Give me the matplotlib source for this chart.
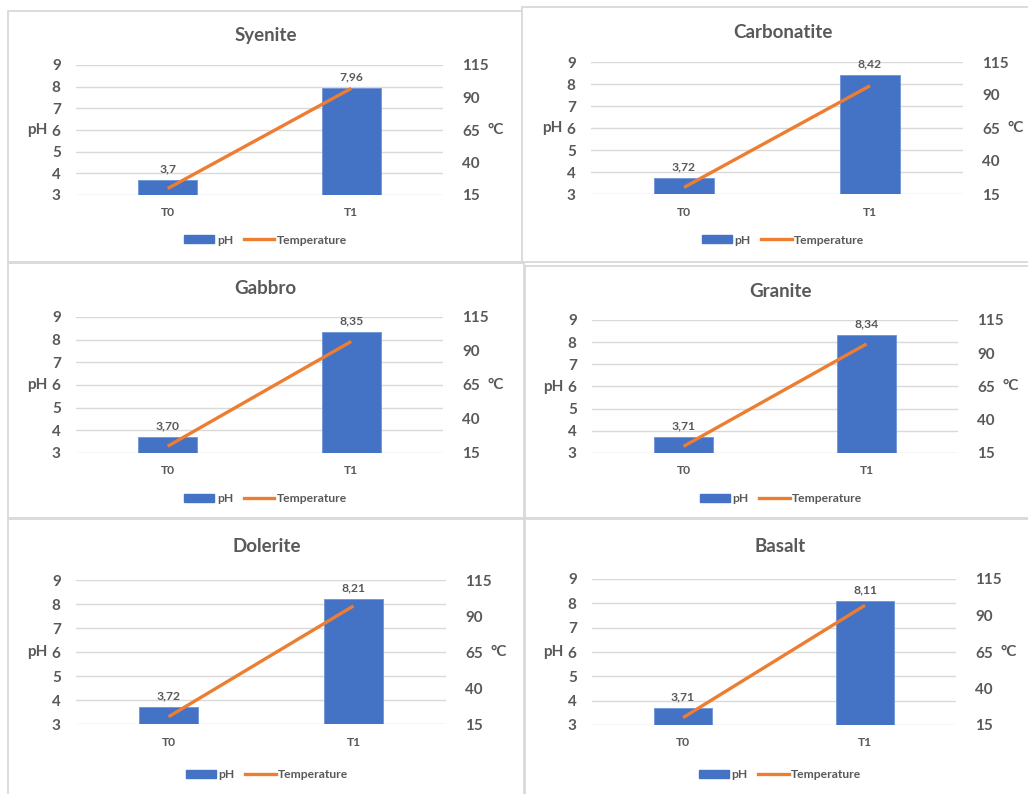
import matplotlib
matplotlib.use("Agg")
import matplotlib.pyplot as plt
from matplotlib.patches import Rectangle, Patch
from matplotlib.lines import Line2D

plt.rcParams["font.family"] = ["Lato", "DejaVu Sans"]

# ---- data ----
rocks = ["Syenite", "Carbonatite", "Gabbro", "Granite", "Dolerite", "Basalt"]
stages = ["T0", "T1"]
ph_t0 = ["3,7", "3,72", "3,70", "3,71", "3,72", "3,71"]
ph_t1 = ["7,96", "8,42", "8,35", "8,34", "8,21", "8,11"]
temperature = [20, 97]
ph_ticks = [3, 4, 5, 6, 7, 8, 9]
temp_ticks = [15, 40, 65, 90, 115]

# ---- layout (pixels): panel box, plot area (left, right, top, bottom), title y, legend y ----
W, H = 1028, 794
panels = [
    dict(box=(8, 11, 522, 262), grid=(76, 443, 65, 195), title_y=35, legend_y=240),
    dict(box=(522, 7, 1030, 262), grid=(591, 963, 62, 194), title_y=32, legend_y=240),
    dict(box=(8, 263, 524, 518), grid=(76, 443, 317, 453), title_y=288, legend_y=499),
    dict(box=(525, 266, 1030, 518), grid=(592, 958, 320, 453), title_y=291, legend_y=499),
    dict(box=(8, 519, 524, 800), grid=(76, 446, 580, 724), title_y=546, legend_y=775),
    dict(box=(525, 519, 1030, 800), grid=(592, 956, 579, 725), title_y=546, legend_y=775),
]

BLUE = "#4472C4"
ORANGE = "#ED7D31"
GRAY = "#595959"
GRID = "#D9D9D9"


def fx(x):
    return x / W


def fy(y):
    return 1 - y / H


fig = plt.figure(figsize=(W / 100, H / 100), dpi=100)
fig.patch.set_facecolor("white")

for name, a, b, p in zip(rocks, ph_t0, ph_t1, panels):
    x0, y0, x1, y1 = p["box"]
    fig.add_artist(Rectangle((fx(x0), fy(y1)), fx(x1 - x0), (y1 - y0) / H,
                             transform=fig.transFigure, facecolor="white",
                             edgecolor=GRID, linewidth=1.3, zorder=0))

    gl, gr, gt, gb = p["grid"]
    ax = fig.add_axes([fx(gl), fy(gb), fx(gr - gl), (gb - gt) / H])
    ax.set_facecolor("none")
    labels = [a, b]
    values = [float(s.replace(",", ".")) for s in labels]
    xs = list(range(len(stages)))
    ax.bar(xs, [v - 3 for v in values], bottom=3, width=0.32,
           color=BLUE, edgecolor="#6E93D6", linewidth=0.6, zorder=2)
    for x, v, s in zip(xs, values, labels):
        ax.annotate(s, (x, v), xytext=(0, 4), textcoords="offset points",
                    ha="center", va="bottom", fontsize=8.7, fontweight="bold",
                    color=GRAY)
    ax.set_xlim(-0.5, 1.5)
    ax.set_ylim(3, 9)
    ax.set_yticks(ph_ticks)
    ax.set_xticks(xs)
    ax.set_xticklabels(stages)
    ax.yaxis.grid(True, color=GRID, linewidth=1.0, zorder=0)
    ax.set_axisbelow(True)
    for sp in ax.spines.values():
        sp.set_visible(False)
    ax.tick_params(axis="y", length=0, pad=11, labelsize=11, labelcolor=GRAY)
    ax.tick_params(axis="x", length=0, pad=9, labelsize=8.7, labelcolor=GRAY)
    for t in ax.get_yticklabels() + ax.get_xticklabels():
        t.set_fontweight("bold")

    ax2 = ax.twinx()
    ax2.plot(xs, temperature, color=ORANGE, linewidth=2.4,
             solid_capstyle="butt", zorder=3)
    ax2.set_ylim(15, 115)
    ax2.set_yticks(temp_ticks)
    for sp in ax2.spines.values():
        sp.set_visible(False)
    ax2.tick_params(axis="y", length=0, pad=14, labelsize=11, labelcolor=GRAY)
    for t in ax2.get_yticklabels():
        t.set_fontweight("bold")

    cx = (gl + gr) / 2 + 6
    fig.text(fx(cx), fy(p["title_y"]), name, ha="center", va="center",
             fontsize=13.5, fontweight="bold", color=GRAY)
    fig.text(fx(gl - 39), fy((gt + gb) / 2), "pH", ha="center", va="center",
             fontsize=11, fontweight="bold", color=GRAY)
    fig.text(fx(gr + 53), fy((gt + gb) / 2), "°C", ha="center", va="center",
             fontsize=11, fontweight="bold", color=GRAY)

    handles = [Patch(facecolor=BLUE, edgecolor=BLUE),
               Line2D([0], [0], color=ORANGE, linewidth=2.4)]
    fig.legend(handles, ["pH", "Temperature"], loc="center",
               bbox_to_anchor=(fx(cx), fy(p["legend_y"])), ncol=2,
               frameon=False, handlelength=2.5, handleheight=0.6,
               handletextpad=0.2, columnspacing=0.9,
               prop=dict(weight="bold", size=8.7),
               labelcolor=GRAY)

fig.savefig("out.png", dpi=100, facecolor="white")
